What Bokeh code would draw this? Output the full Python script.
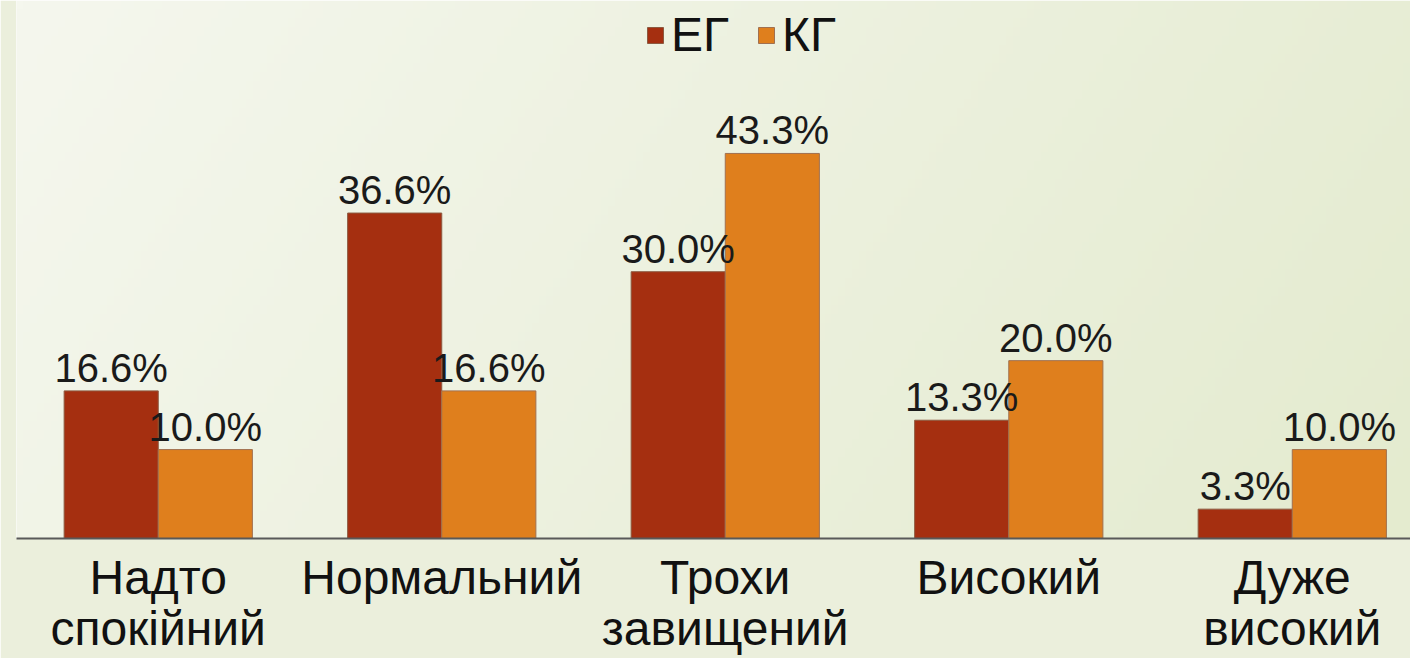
import numpy as np
from bokeh.plotting import figure
from bokeh.models import Range1d, ColumnDataSource, Legend, LegendItem, FixedTicker
from bokeh.transform import dodge
from bokeh.core.properties import value
from bokeh.embed import file_html
from bokeh.resources import INLINE

# ---- data ----
categories = ["Надто\nспокійний", "Нормальний", "Трохи\nзавищений", "Високий", "Дуже\nвисокий"]
series_names = ["ЕГ", "КГ"]
eg_values = [16.6, 36.6, 30.0, 13.3, 3.3]
kg_values = [10.0, 16.6, 43.3, 20.0, 10.0]
eg_labels = ["16.6%", "36.6%", "30.0%", "13.3%", "3.3%"]
kg_labels = ["10.0%", "16.6%", "43.3%", "20.0%", "10.0%"]

# ---- style ----
EG_COLOR = "#A52F10"
KG_COLOR = "#DF7F1D"
BAR_W = 0.332
FONT = "Liberation Sans"
XMAX = 4.917
YMAX = 60.5

xs = [i + 0.5 for i in range(len(categories))]
src = ColumnDataSource(dict(x=xs, eg=eg_values, kg=kg_values, eg_lab=eg_labels, kg_lab=kg_labels))

p = figure(frame_width=1394, frame_height=538, output_backend="svg", toolbar_location=None,
           x_range=Range1d(0, XMAX), y_range=Range1d(0, YMAX), y_axis_location=None,
           min_border_left=16, min_border_right=0, min_border_top=0, min_border_bottom=0)
p.outline_line_color = None
p.xgrid.visible = False
p.ygrid.visible = False
p.border_fill_color = "#EBEFDC"

# subtle diagonal gradient background
nx, ny = 200, 60
u = np.linspace(0, 1, nx)[None, :]
v = np.linspace(0, 1, ny)[:, None]
t = np.clip(0.8 * u + 0.2 * (1 - v), 0, 1)
c0 = np.array([245, 247, 238])
c1 = np.array([228, 235, 207])
img = np.empty((ny, nx), dtype=np.uint32)
view = img.view(dtype=np.uint8).reshape((ny, nx, 4))
for k in range(3):
    view[:, :, k] = (c0[k] + t * (c1[k] - c0[k])).astype(np.uint8)
view[:, :, 3] = 255
p.image_rgba(image=[img], x=0, y=0, dw=XMAX, dh=YMAX)

r_eg = p.vbar(x=dodge("x", -BAR_W / 2, range=p.x_range), top="eg", width=BAR_W, source=src,
              fill_color=EG_COLOR, line_color="#8C5A40", line_width=1)
r_kg = p.vbar(x=dodge("x", BAR_W / 2, range=p.x_range), top="kg", width=BAR_W, source=src,
              fill_color=KG_COLOR, line_color="#A07050", line_width=1)

for key, lab, off in (("eg", "eg_lab", -BAR_W / 2), ("kg", "kg_lab", BAR_W / 2)):
    p.text(x=dodge("x", off, range=p.x_range), y=key, text=lab, source=src,
           text_align="center", text_baseline="alphabetic", y_offset=-23,
           text_font=value(FONT), text_font_size="40px", text_color="#1A1A1A")

ax = p.xaxis[0]
ax.ticker = FixedTicker(ticks=xs)
ax.major_label_overrides = {x: c for x, c in zip(xs, categories)}
ax.major_tick_line_color = None
ax.minor_tick_line_color = None
ax.axis_line_color = "#595959"
ax.axis_line_width = 2
ax.major_label_text_font = FONT
ax.major_label_text_font_size = "48px"
ax.major_label_text_color = "#111111"
ax.major_label_text_line_height = 0.98
ax.major_label_standoff = 6

legend = Legend(items=[LegendItem(label=series_names[0], renderers=[r_eg]),
                       LegendItem(label=series_names[1], renderers=[r_kg])],
                orientation="horizontal", location=(629, 476),
                label_text_font=FONT, label_text_font_size="48px", label_text_color="#111111",
                glyph_width=20, glyph_height=20, label_standoff=6, spacing=27,
                padding=0, margin=0, border_line_alpha=0, background_fill_alpha=0)
p.add_layout(legend, "center")

open("out.html", "w").write(file_html(p, INLINE))
